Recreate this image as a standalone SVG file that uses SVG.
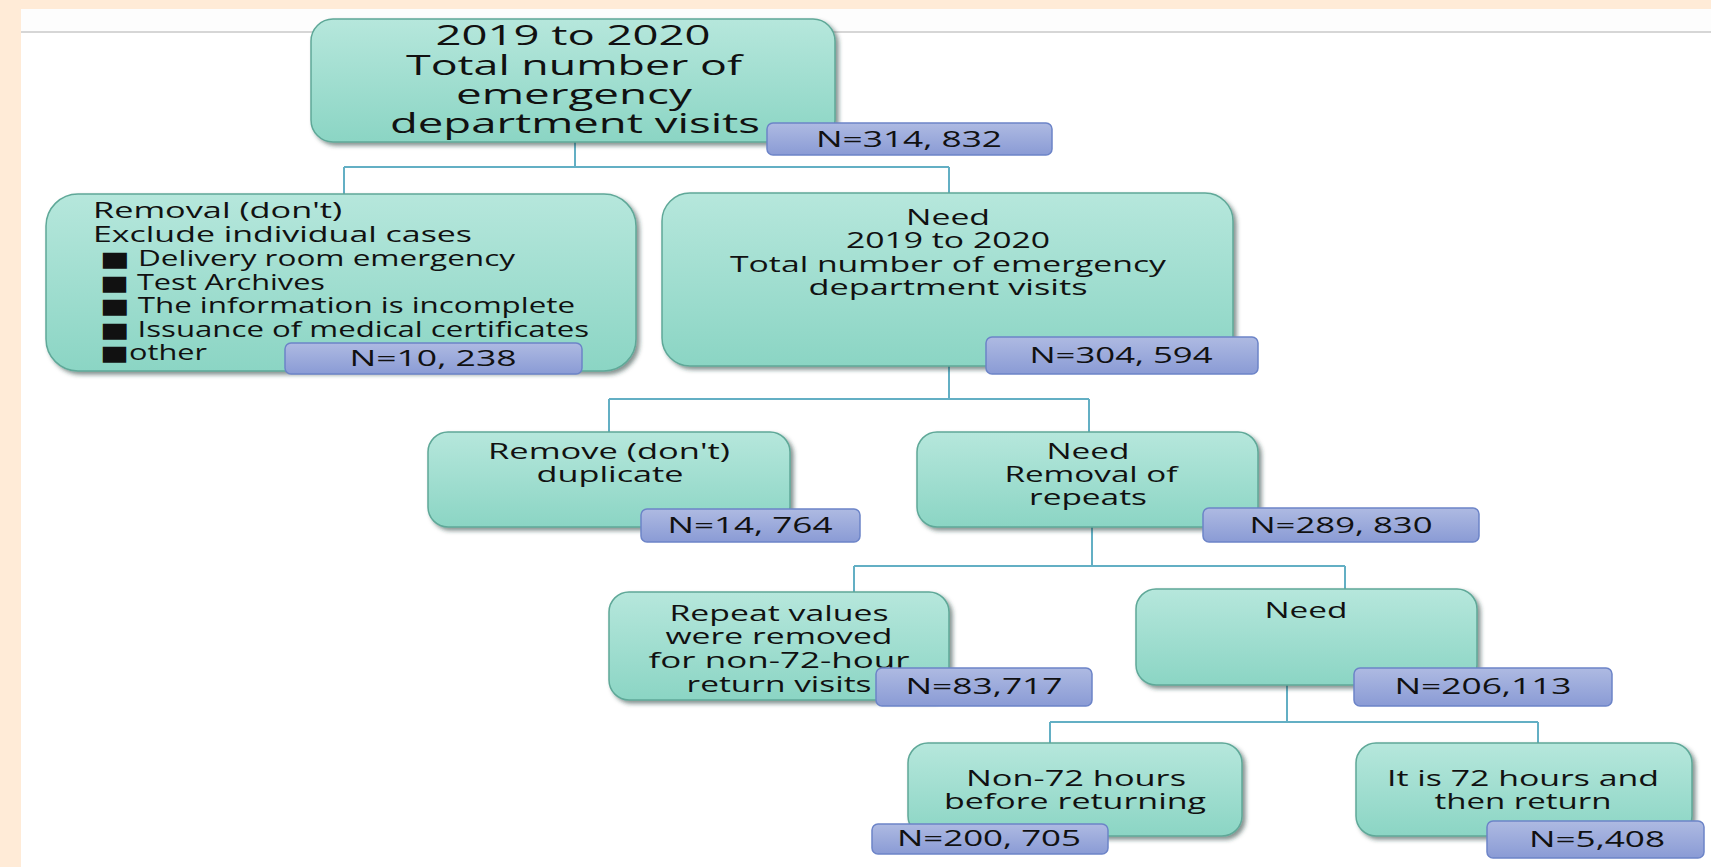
<svg xmlns="http://www.w3.org/2000/svg" width="1711" height="867" viewBox="0 0 1711 867">
<defs>
<linearGradient id="ng" x1="0" y1="0" x2="0" y2="1"><stop offset="0" stop-color="#B6E7DC"/><stop offset="1" stop-color="#8BD5C4"/></linearGradient>
<linearGradient id="lg" x1="0" y1="0" x2="0" y2="1"><stop offset="0" stop-color="#AEBAE2"/><stop offset="1" stop-color="#8A9BD5"/></linearGradient>
<filter id="sh" x="-10%" y="-10%" width="120%" height="130%"><feDropShadow dx="3" dy="3" stdDeviation="2" flood-color="#1d3b35" flood-opacity="0.55"/></filter>
</defs>
<style>
.node > rect.box{fill:url(#ng);stroke:#5FA898;stroke-width:1.5;filter:url(#sh)}
.node > rect.lbl{fill:url(#lg);stroke:#6C84C8;stroke-width:1.5}
text{font-family:"Open Sans","Noto Sans","DejaVu Sans",sans-serif;fill:#111}
.c{text-anchor:middle}
.t{font-size:28px;font-weight:500}
.m{font-size:21px}
.n{font-size:22px}
.conn{stroke:#63AFC4;stroke-width:2;fill:none}
</style>
<rect width="1711" height="867" fill="#FFFFFF"/>
<rect x="0" y="0" width="1711" height="9" fill="#FFEBD7"/>
<rect x="0" y="0" width="21" height="867" fill="#FFEBD7"/>
<rect x="21" y="9" width="1690" height="23" fill="#FDFDFD"/>
<line x1="21" y1="32" x2="1711" y2="32" stroke="#D6D6D6" stroke-width="2"/>

<g id="connectors" class="conn">
<path d="M575 142V167M344 167H949M344 167V194M949 167V193"/>
<path d="M949 366V399M609 399H1089M609 399V432M1089 399V432"/>
<path d="M1092 527V566M854 566H1345M854 566V592M1345 566V589"/>
<path d="M1287 685V722M1050 722H1538M1050 722V743M1538 722V743"/>
</g>

<g id="n-total" class="node">
<rect class="box" x="311" y="19" width="524" height="123" rx="22"/>
<text class="c t" x="573" y="45" textLength="275" lengthAdjust="spacingAndGlyphs">2019 to 2020</text>
<text class="c t" x="574" y="75" textLength="336" lengthAdjust="spacingAndGlyphs">Total number of</text>
<text class="c t" x="574" y="104" textLength="236" lengthAdjust="spacingAndGlyphs">emergency</text>
<text class="c t" x="575" y="133" textLength="370" lengthAdjust="spacingAndGlyphs">department visits</text>
<rect class="lbl" x="767" y="123" width="285" height="32" rx="6"/>
<text class="c n" x="909" y="147" textLength="186" lengthAdjust="spacingAndGlyphs">N=314, 832</text>
</g>

<g id="n-exclude" class="node">
<rect class="box" x="46" y="194" width="590" height="177" rx="32"/>
<text class="m" x="93" y="218" textLength="249" lengthAdjust="spacingAndGlyphs">Removal (don't)</text>
<text class="m" x="93" y="242" textLength="379" lengthAdjust="spacingAndGlyphs">Exclude individual cases</text>
<text class="m" x="100" y="266" textLength="415" lengthAdjust="spacingAndGlyphs">■ Delivery room emergency</text>
<text class="m" x="100" y="290" textLength="225" lengthAdjust="spacingAndGlyphs">■ Test Archives</text>
<text class="m" x="100" y="313" textLength="475" lengthAdjust="spacingAndGlyphs">■ The information is incomplete</text>
<text class="m" x="100" y="337" textLength="489" lengthAdjust="spacingAndGlyphs">■ Issuance of medical certificates</text>
<text class="m" x="100" y="360" textLength="107" lengthAdjust="spacingAndGlyphs">■other</text>
<rect class="lbl" x="285" y="343" width="297" height="31" rx="6"/>
<text class="c n" x="433" y="366" textLength="167" lengthAdjust="spacingAndGlyphs">N=10, 238</text>
</g>

<g id="n-need1" class="node">
<rect class="box" x="662" y="193" width="571" height="173" rx="28"/>
<text class="c m" x="948" y="225" textLength="84" lengthAdjust="spacingAndGlyphs">Need</text>
<text class="c m" x="948" y="248" textLength="204" lengthAdjust="spacingAndGlyphs">2019 to 2020</text>
<text class="c m" x="948" y="272" textLength="436" lengthAdjust="spacingAndGlyphs">Total number of emergency</text>
<text class="c m" x="948" y="295" textLength="279" lengthAdjust="spacingAndGlyphs">department visits</text>
<rect class="lbl" x="986" y="337" width="272" height="37" rx="6"/>
<text class="c n" x="1121" y="363" textLength="183" lengthAdjust="spacingAndGlyphs">N=304, 594</text>
</g>

<g id="n-dup" class="node">
<rect class="box" x="428" y="432" width="362" height="95" rx="20"/>
<text class="c m" x="609" y="459" textLength="242" lengthAdjust="spacingAndGlyphs">Remove (don't)</text>
<text class="c m" x="610" y="482" textLength="147" lengthAdjust="spacingAndGlyphs">duplicate</text>
<rect class="lbl" x="641" y="509" width="219" height="33" rx="6"/>
<text class="c n" x="750" y="533" textLength="165" lengthAdjust="spacingAndGlyphs">N=14, 764</text>
</g>

<g id="n-need2" class="node">
<rect class="box" x="917" y="432" width="341" height="95" rx="20"/>
<text class="c m" x="1088" y="459" textLength="83" lengthAdjust="spacingAndGlyphs">Need</text>
<text class="c m" x="1091" y="482" textLength="173" lengthAdjust="spacingAndGlyphs">Removal of</text>
<text class="c m" x="1088" y="505" textLength="118" lengthAdjust="spacingAndGlyphs">repeats</text>
<rect class="lbl" x="1203" y="508" width="276" height="34" rx="6"/>
<text class="c n" x="1341" y="533" textLength="183" lengthAdjust="spacingAndGlyphs">N=289, 830</text>
</g>

<g id="n-repeat" class="node">
<rect class="box" x="609" y="592" width="340" height="108" rx="20"/>
<text class="c m" x="779" y="621" textLength="219" lengthAdjust="spacingAndGlyphs">Repeat values</text>
<text class="c m" x="779" y="644" textLength="227" lengthAdjust="spacingAndGlyphs">were removed</text>
<text class="c m" x="779" y="668" textLength="261" lengthAdjust="spacingAndGlyphs">for non-72-hour</text>
<text class="c m" x="779" y="692" textLength="185" lengthAdjust="spacingAndGlyphs">return visits</text>
<rect class="lbl" x="876" y="668" width="216" height="38" rx="6"/>
<text class="c n" x="984" y="694" textLength="157" lengthAdjust="spacingAndGlyphs">N=83,717</text>
</g>

<g id="n-need3" class="node">
<rect class="box" x="1136" y="589" width="341" height="96" rx="20"/>
<text class="c m" x="1306" y="618" textLength="83" lengthAdjust="spacingAndGlyphs">Need</text>
<rect class="lbl" x="1354" y="668" width="258" height="38" rx="6"/>
<text class="c n" x="1483" y="694" textLength="177" lengthAdjust="spacingAndGlyphs">N=206,113</text>
</g>

<g id="n-non72" class="node">
<rect class="box" x="908" y="743" width="334" height="93" rx="20"/>
<text class="c m" x="1076" y="786" textLength="220" lengthAdjust="spacingAndGlyphs">Non-72 hours</text>
<text class="c m" x="1075" y="809" textLength="262" lengthAdjust="spacingAndGlyphs">before returning</text>
<rect class="lbl" x="872" y="824" width="236" height="30" rx="6"/>
<text class="c n" x="989" y="846" textLength="184" lengthAdjust="spacingAndGlyphs">N=200, 705</text>
</g>

<g id="n-72" class="node">
<rect class="box" x="1356" y="743" width="336" height="93" rx="20"/>
<text class="c m" x="1523" y="786" textLength="272" lengthAdjust="spacingAndGlyphs">It is 72 hours and</text>
<text class="c m" x="1523" y="809" textLength="177" lengthAdjust="spacingAndGlyphs">then return</text>
<rect class="lbl" x="1487" y="821" width="217" height="37" rx="6"/>
<text class="c n" x="1597" y="847" textLength="136" lengthAdjust="spacingAndGlyphs">N=5,408</text>
</g>
</svg>
